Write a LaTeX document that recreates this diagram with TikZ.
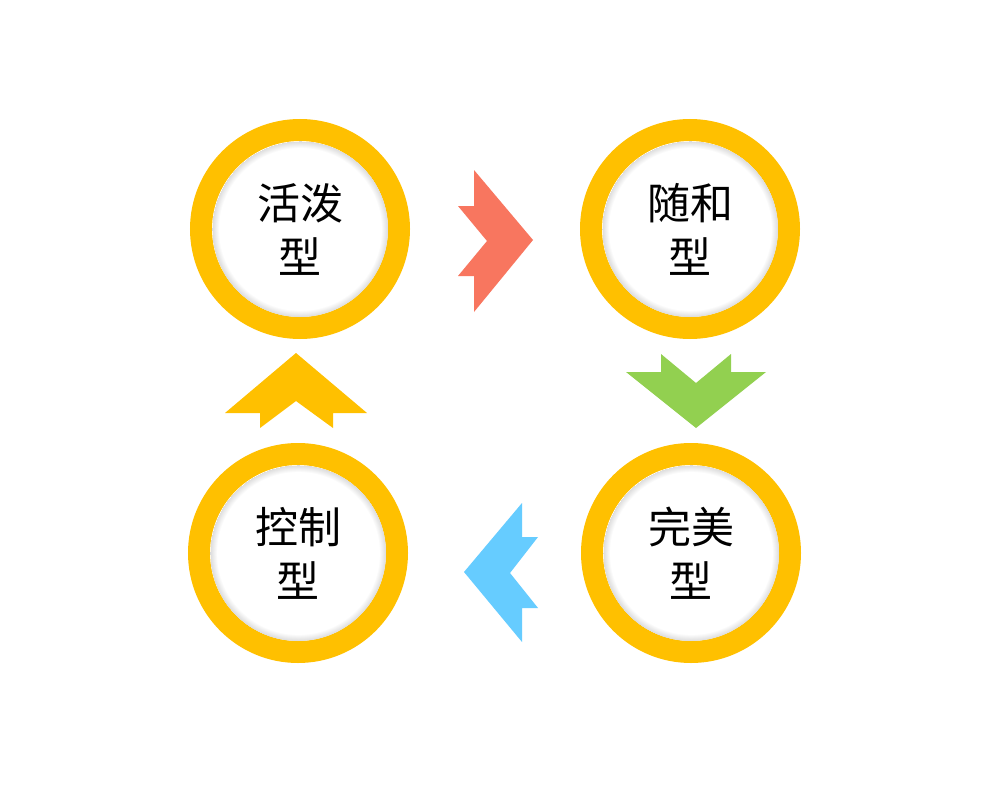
\documentclass[tikz,border=0pt]{standalone}
\usepackage{fontspec}
\newfontfamily\cjk{Noto Sans CJK SC}
\usepackage{tikz}
\usetikzlibrary{shadows.blur}

\definecolor{ringyellow}{HTML}{FFC000}
\definecolor{arrred}{HTML}{F8765F}
\definecolor{arrgreen}{HTML}{92D050}
\definecolor{arrblue}{HTML}{66CCFF}

\pgfdeclareradialshading{innerglow}{\pgfpoint{0bp}{0bp}}{color(0bp)=(white);color(23bp)=(white);color(25bp)=(black!14)}

\begin{document}
\begin{tikzpicture}[x=1pt,y=-1pt,
  ring/.style={circle,draw=ringyellow,line width=22pt,minimum size=198pt,inner sep=0pt,
    fill=white,blur shadow={shadow xshift=0.5pt,shadow yshift=-1.5pt,shadow blur radius=4pt,shadow opacity=55}},
  hole/.style={circle,minimum size=176pt,inner sep=0pt,shading=innerglow},
  label/.style={align=center,font=\cjk\fontsize{43}{54}\selectfont}]

\useasboundingbox [fill=white] (0,0) rectangle (999,808);

\node [ring] (huopo) at (300,229) {};
\node [ring] (suihe) at (690,229) {};
\node [ring] (wanmei) at (691,553) {};
\node [ring] (kongzhi) at (298,553) {};

\foreach \n in {huopo,suihe,wanmei,kongzhi}
  \node [hole] at (\n) {};

\node [label] at (huopo) {活泼\\型};
\node [label] at (suihe) {随和\\型};
\node [label] at (wanmei) {完美\\型};
\node [label] at (kongzhi) {控制\\型};

% arrows between the rings
\fill [arrred] (474,170) -- (533,240) -- (474,312) -- (474,276) -- (458,276) -- (487,241) -- (458,206) -- (474,206) -- cycle;
\fill [arrgreen] (696,428) -- (626,372) -- (661,372) -- (661,354) -- (696,383) -- (731,354) -- (731,372) -- (766,372) -- cycle;
\fill [arrblue] (464,572) -- (522,503) -- (522,537) -- (538,537) -- (510,573) -- (538,608) -- (522,608) -- (522,642) -- cycle;
\fill [ringyellow] (296,353) -- (367,413) -- (333,413) -- (333,428) -- (296,401) -- (260,428) -- (260,413) -- (225,413) -- cycle;

\end{tikzpicture}
\end{document}
